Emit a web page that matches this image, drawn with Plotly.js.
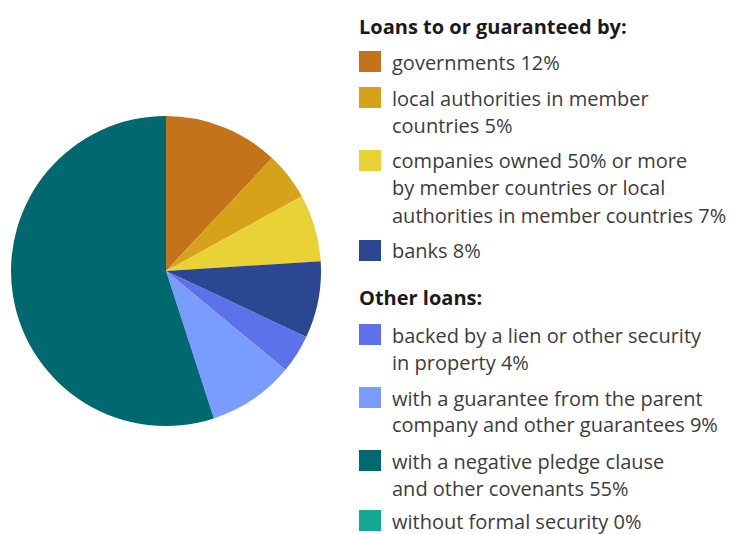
<!DOCTYPE html>
<html>
<head>
<meta charset="utf-8">
<script src="https://cdn.plot.ly/plotly-3.0.1.min.js"></script>
<style>html,body{margin:0;padding:0;background:#fff;}#chart{width:731px;height:534px;}</style>
</head>
<body>
<div id="chart"></div>
<script>
// ---- data ----
const categories = [
  "governments",
  "local authorities in member countries",
  "companies owned 50% or more by member countries or local authorities in member countries",
  "banks",
  "backed by a lien or other security in property",
  "with a guarantee from the parent company and other guarantees",
  "with a negative pledge clause and other covenants",
  "without formal security"
];
const values = [12, 5, 7, 8, 4, 9, 55, 0];
const groups = ["Loans to or guaranteed by:", "Other loans:"];
const groupOf = [0, 0, 0, 0, 1, 1, 1, 1];
const legendLines = [
  ["governments 12%"],
  ["local authorities in member", "countries 5%"],
  ["companies owned 50% or more", "by member countries or local", "authorities in member countries 7%"],
  ["banks 8%"],
  ["backed by a lien or other security", "in property 4%"],
  ["with a guarantee from the parent", "company and other guarantees 9%"],
  ["with a negative pledge clause", "and other covenants 55%"],
  ["without formal security 0%"]
];
const colors = ["#C5731A", "#D6A219", "#E8D236", "#2B4792", "#5D71EA", "#7B9CFF", "#006970", "#14AA92"];

// ---- layout constants (pixels) ----
const W = 731, H = 534;
const cx = 166, cy = 271, r = 155;
const sqX = 359, sqW = 22, sqH = 21, txtX = 390, headX = 357;
const lineH = 27, groupGap = 46, headGaps = [36, 38];
const itemGaps = [0, 36, 36, 36, 0, 36, 36, 33];
const startY = 26;
const fontSize = 20;
const px = x => x / W;
const py = y => 1 - y / H;

const trace = {
  type: "pie",
  values: values,
  labels: categories,
  sort: false,
  direction: "clockwise",
  rotation: 0,
  textinfo: "none",
  hoverinfo: "label+percent",
  marker: { colors: colors, line: { width: 0 } },
  showlegend: false,
  domain: { x: [px(cx - r), px(cx + r)], y: [py(cy + r), py(cy - r)] }
};

const annotations = [];
const shapes = [];
let y = startY;
let lastGroup = -1;
for (let i = 0; i < categories.length; i++) {
  const g = groupOf[i];
  if (g !== lastGroup) {
    if (lastGroup !== -1) y += groupGap;
    annotations.push({
      xref: "paper", yref: "paper", x: px(headX), y: py(y),
      xanchor: "left", yanchor: "middle", showarrow: false,
      text: "<b>" + groups[g] + "</b>",
      font: { family: "Open Sans, sans-serif", size: fontSize, color: "#1a1a1a" }
    });
    y += headGaps[g];
    lastGroup = g;
  } else {
    y += itemGaps[i];
  }
  shapes.push({
    type: "rect", xref: "paper", yref: "paper",
    x0: px(sqX), x1: px(sqX + sqW), y0: py(y - 11 + sqH), y1: py(y - 11),
    fillcolor: colors[i], line: { width: 0 }
  });
  legendLines[i].forEach((t, k) => {
    annotations.push({
      xref: "paper", yref: "paper", x: px(txtX), y: py(y),
      xanchor: "left", yanchor: "middle", showarrow: false,
      text: t,
      font: { family: "Open Sans, sans-serif", size: fontSize, color: "#3c3c3c" }
    });
    if (k < legendLines[i].length - 1) y += lineH;
  });
}

const layout = {
  width: W, height: H,
  margin: { l: 0, r: 0, t: 0, b: 0 },
  paper_bgcolor: "#ffffff",
  plot_bgcolor: "#ffffff",
  showlegend: false,
  annotations: annotations,
  shapes: shapes
};

Plotly.newPlot("chart", [trace], layout, { displayModeBar: false, staticPlot: true });
</script>
</body>
</html>
